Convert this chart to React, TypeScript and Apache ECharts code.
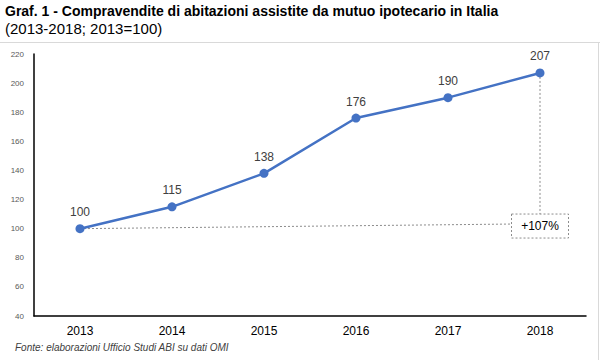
import React, { useEffect, useRef } from "react";
import * as echarts from "echarts";

const years = ["2013", "2014", "2015", "2016", "2017", "2018"];
const values = [100, 115, 138, 176, 190, 207];
const changeLabel = "+107%";
const boxValue = 101.8;
const titleText = "Graf. 1 - Compravendite di abitazioni assistite da mutuo ipotecario in Italia";
const subtitleText = "(2013-2018; 2013=100)";
const sourceText = "Fonte: elaborazioni Ufficio Studi ABI su dati OMI";

export default function App() {
  const ref = useRef<HTMLDivElement>(null);
  useEffect(() => {
    const chart = echarts.init(ref.current!, null, { renderer: "svg" });
    const font = "Liberation Sans, Arial, sans-serif";
    chart.setOption({
      animation: false,
      backgroundColor: "#ffffff",
      textStyle: { fontFamily: font },
      grid: { left: 34, right: 14, top: 54, bottom: 44 },
      xAxis: {
        type: "category",
        data: years,
        boundaryGap: true,
        axisLine: { lineStyle: { color: "#000", width: 1.5 } },
        axisTick: { show: false },
        axisLabel: { fontSize: 12, color: "#000", margin: 9, fontFamily: font },
      },
      yAxis: {
        type: "value",
        min: 40,
        max: 220,
        interval: 20,
        axisLine: { show: true, lineStyle: { color: "#000", width: 1.5 } },
        axisTick: { show: false },
        splitLine: { show: false },
        axisLabel: { fontSize: 8, color: "#595959", margin: 10, fontFamily: font },
      },
      series: [
        {
          type: "line",
          data: values,
          symbol: "circle",
          symbolSize: 9,
          lineStyle: { color: "#4472C4", width: 2.5 },
          itemStyle: { color: "#4472C4" },
          label: {
            show: true,
            position: "top",
            distance: 6,
            fontSize: 12,
            color: "#404040",
            fontFamily: font,
          },
        },
      ],
    });

    const p0 = chart.convertToPixel({ seriesIndex: 0 }, [0, values[0]]) as number[];
    const pLast = chart.convertToPixel({ seriesIndex: 0 }, [years.length - 1, values[values.length - 1]]) as number[];
    const boxC = chart.convertToPixel({ seriesIndex: 0 }, [years.length - 1, boxValue]) as number[];
    const bw = 57;
    const bh = 24;
    const bx = boxC[0] - bw / 2;
    const by = boxC[1] - bh / 2;
    const dash = { stroke: "#8c8c8c", lineWidth: 1, lineDash: [2, 2] };

    chart.setOption({
      graphic: [
        { type: "line", shape: { x1: 0, y1: 42.5, x2: 600, y2: 42.5 }, style: { stroke: "#d9d9d9", lineWidth: 1 } },
        { type: "line", shape: { x1: 598.5, y1: 42, x2: 598.5, y2: 360 }, style: { stroke: "#d9d9d9", lineWidth: 1 } },
        { type: "line", z: 1, shape: { x1: p0[0], y1: p0[1], x2: bx, y2: boxC[1] - 2 }, style: dash },
        { type: "line", z: 1, shape: { x1: pLast[0], y1: pLast[1], x2: pLast[0], y2: by }, style: dash },
        { type: "rect", shape: { x: bx, y: by, width: bw, height: bh }, style: { fill: "#fff", ...dash } },
        {
          type: "text",
          x: boxC[0],
          y: boxC[1],
          style: { text: changeLabel, fill: "#000", font: `12px ${font}`, align: "center", verticalAlign: "middle" },
        },
        {
          type: "text",
          left: 5,
          top: 4,
          style: { text: titleText, fill: "#000", font: `bold 14px ${font}` },
        },
        {
          type: "text",
          left: 5,
          top: 21,
          style: { text: subtitleText, fill: "#000", font: `15px ${font}` },
        },
        {
          type: "text",
          left: 15,
          top: 342,
          style: { text: sourceText, fill: "#404040", font: `italic 10px ${font}` },
        },
      ],
    });
    return () => chart.dispose();
  }, []);
  return <div ref={ref} style={{ position: "fixed", left: 0, top: 0, width: 600, height: 360 }} />;
}
